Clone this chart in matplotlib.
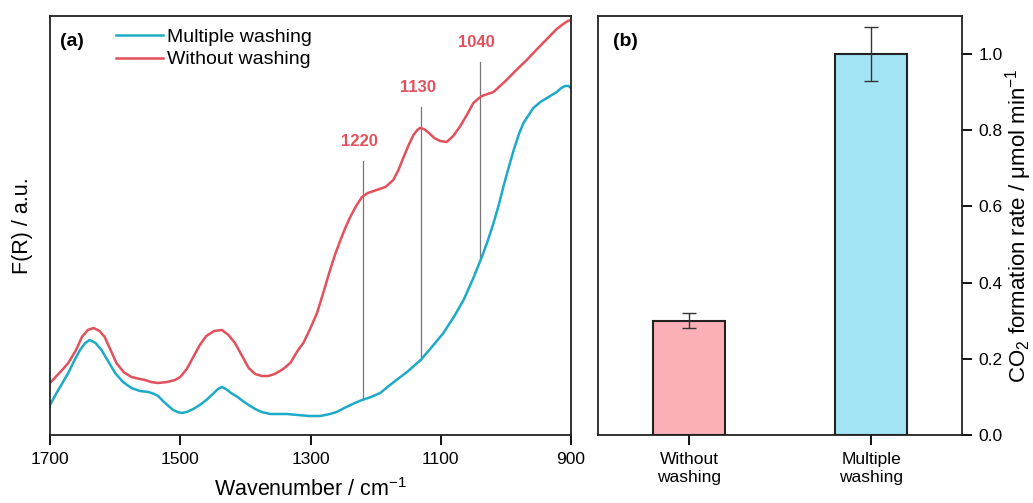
import numpy as np
import matplotlib
matplotlib.use("Agg")
import matplotlib.pyplot as plt

plt.rcParams['font.family'] = ['Liberation Sans', 'DejaVu Sans']
plt.rcParams['mathtext.fontset'] = 'custom'
plt.rcParams['mathtext.rm'] = 'Liberation Sans'
plt.rcParams['mathtext.it'] = 'Liberation Sans:italic'
plt.rcParams['mathtext.default'] = 'regular'

# ---- panel (a): DRIFT spectra (arb. units) ----
wn_red = [1700, 1690, 1680, 1672, 1660, 1651, 1642, 1633, 1624, 1616, 1607, 1598,
          1587, 1575, 1562, 1554, 1545, 1534, 1520, 1508, 1500, 1490, 1480, 1470,
          1460, 1448, 1436, 1426, 1416, 1405, 1395, 1385, 1375, 1365, 1355, 1342,
          1331, 1320, 1311, 1300, 1290, 1280, 1270, 1262, 1254, 1246, 1239, 1230,
          1221, 1212, 1203, 1194, 1185, 1178, 1173, 1165, 1157, 1150, 1142, 1136,
          1132, 1126, 1118, 1110, 1101, 1091, 1081, 1071, 1060, 1050, 1043, 1037,
          1028, 1019, 1009, 999, 984, 968, 952, 937, 922, 912, 905, 900]
fr_red = [52, 59, 66, 72, 85, 98, 105, 107, 104, 98, 85, 72,
          63, 58, 56, 55, 53, 52, 53, 55, 58, 66, 78, 90,
          99, 104, 105, 100, 92, 79, 67, 61, 59, 59, 61, 66,
          72, 84, 92, 107, 122, 143, 165, 181, 195, 208, 218, 229,
          238, 242, 244, 246, 248, 252, 255, 265, 278, 289, 300, 305,
          307, 306, 302, 297, 294, 293, 299, 308, 320, 332, 336, 339,
          341, 343, 349, 355, 365, 375, 386, 396, 406, 411, 414, 415]

wn_cyan = [1700, 1690, 1680, 1672, 1663, 1654, 1646, 1639, 1630, 1621, 1610, 1600,
           1588, 1575, 1562, 1549, 1540, 1534, 1525, 1518, 1511, 1504, 1498, 1490,
           1480, 1470, 1460, 1450, 1442, 1436, 1430, 1422, 1412, 1404, 1395, 1385,
           1375, 1362, 1348, 1336, 1320, 1301, 1285, 1270, 1260, 1245, 1232, 1221,
           1207, 1193, 1178, 1162, 1150, 1131, 1115, 1096, 1080, 1065, 1050, 1037,
           1028, 1019, 1011, 1004, 996, 988, 980, 973, 965, 958, 947, 937,
           922, 915, 909, 904, 900]
fr_cyan = [30, 42, 53, 62, 74, 85, 92, 95, 92, 85, 73, 62,
           53, 47, 44, 43, 41, 39, 33, 29, 25, 23, 22, 23,
           26, 30, 35, 41, 46, 48, 46, 42, 38, 34, 30, 26,
           23, 21, 21, 21, 20, 19, 19, 21, 23, 28, 32, 35,
           38, 42, 50, 58, 64, 75, 87, 102, 118, 135, 157, 178,
           194, 212, 230, 248, 267, 285, 301, 312, 320, 327, 333, 337,
           343, 347, 349, 349, 347]

peaks = [1220, 1130, 1040]
peak_top = [274, 328, 373]
peak_bottom = [35, 75, 174]

# ---- panel (b): CO2 formation rate ----
samples = ['Without\nwashing', 'Multiple\nwashing']
rate = [0.30, 1.00]
rate_err = [0.02, 0.07]

red = '#E2505C'
cyan = '#1DAAC6'

fig = plt.figure(figsize=(10.33, 5.03), dpi=100)
ax1 = fig.add_axes([0.0484, 0.1352, 0.5044, 0.833])
ax2 = fig.add_axes([0.5789, 0.1352, 0.3524, 0.833])

for ax in (ax1, ax2):
    for s in ax.spines.values():
        s.set_linewidth(1.3)
        s.set_color('#222222')

# (a)
ax1.plot(wn_cyan, fr_cyan, color=cyan, lw=1.8, solid_joinstyle='round',
         label='Multiple washing')
ax1.plot(wn_red, fr_red, color=red, lw=1.8, solid_joinstyle='round',
         label='Without washing')
for p, t, b in zip(peaks, peak_top, peak_bottom):
    ax1.plot([p, p], [b, t], color='#777777', lw=0.9, zorder=0)
    ax1.text(p + 5, t + 12, str(p), color=red, fontsize=12, fontweight='bold',
             ha='center', va='bottom')
ax1.set_xlim(1700, 900)
ax1.set_ylim(0, 419)
ax1.set_xticks([1700, 1500, 1300, 1100, 900])
ax1.set_yticks([])
ax1.tick_params(axis='x', direction='out', length=7, width=1.3, labelsize=12.5, pad=5)
ax1.set_xlabel('Wavenumber / cm$^{-1}$', fontsize=15.5, labelpad=8)
ax1.set_ylabel('F(R) / a.u.', fontsize=15.5, labelpad=12)
ax1.text(0.02, 0.94, '(a)', transform=ax1.transAxes, fontsize=14, fontweight='bold',
         va='center')
ax1.legend(loc='upper left', bbox_to_anchor=(0.101, 1.003), frameon=False, fontsize=14,
           handlelength=2.4, handletextpad=0.2, labelspacing=0.25, borderaxespad=0.3)

# (b)
x = np.arange(len(samples))
ax2.bar(x, rate, width=0.4, color=['#FBB0B8', '#A2E4F3'], edgecolor='#222222',
        linewidth=1.5, yerr=rate_err, capsize=5,
        error_kw=dict(ecolor='#333333', elinewidth=1, capthick=1))
ax2.set_xlim(-0.5, 1.5)
ax2.set_ylim(0, 1.10)
ax2.set_xticks(x)
ax2.set_xticklabels(samples, fontsize=12.5, linespacing=1.25)
ax2.yaxis.tick_right()
ax2.yaxis.set_label_position('right')
ax2.set_yticks([0, 0.2, 0.4, 0.6, 0.8, 1.0])
ax2.set_yticklabels(['0.0', '0.2', '0.4', '0.6', '0.8', '1.0'])
ax2.tick_params(axis='both', direction='out', length=7, width=1.3, labelsize=12.5, pad=5)
ax2.set_ylabel('CO$_2$ formation rate / μmol min$^{-1}$', fontsize=16, labelpad=0)
ax2.text(0.04, 0.94, '(b)', transform=ax2.transAxes, fontsize=14, fontweight='bold',
         va='center')

fig.savefig('out.png', dpi=100)
